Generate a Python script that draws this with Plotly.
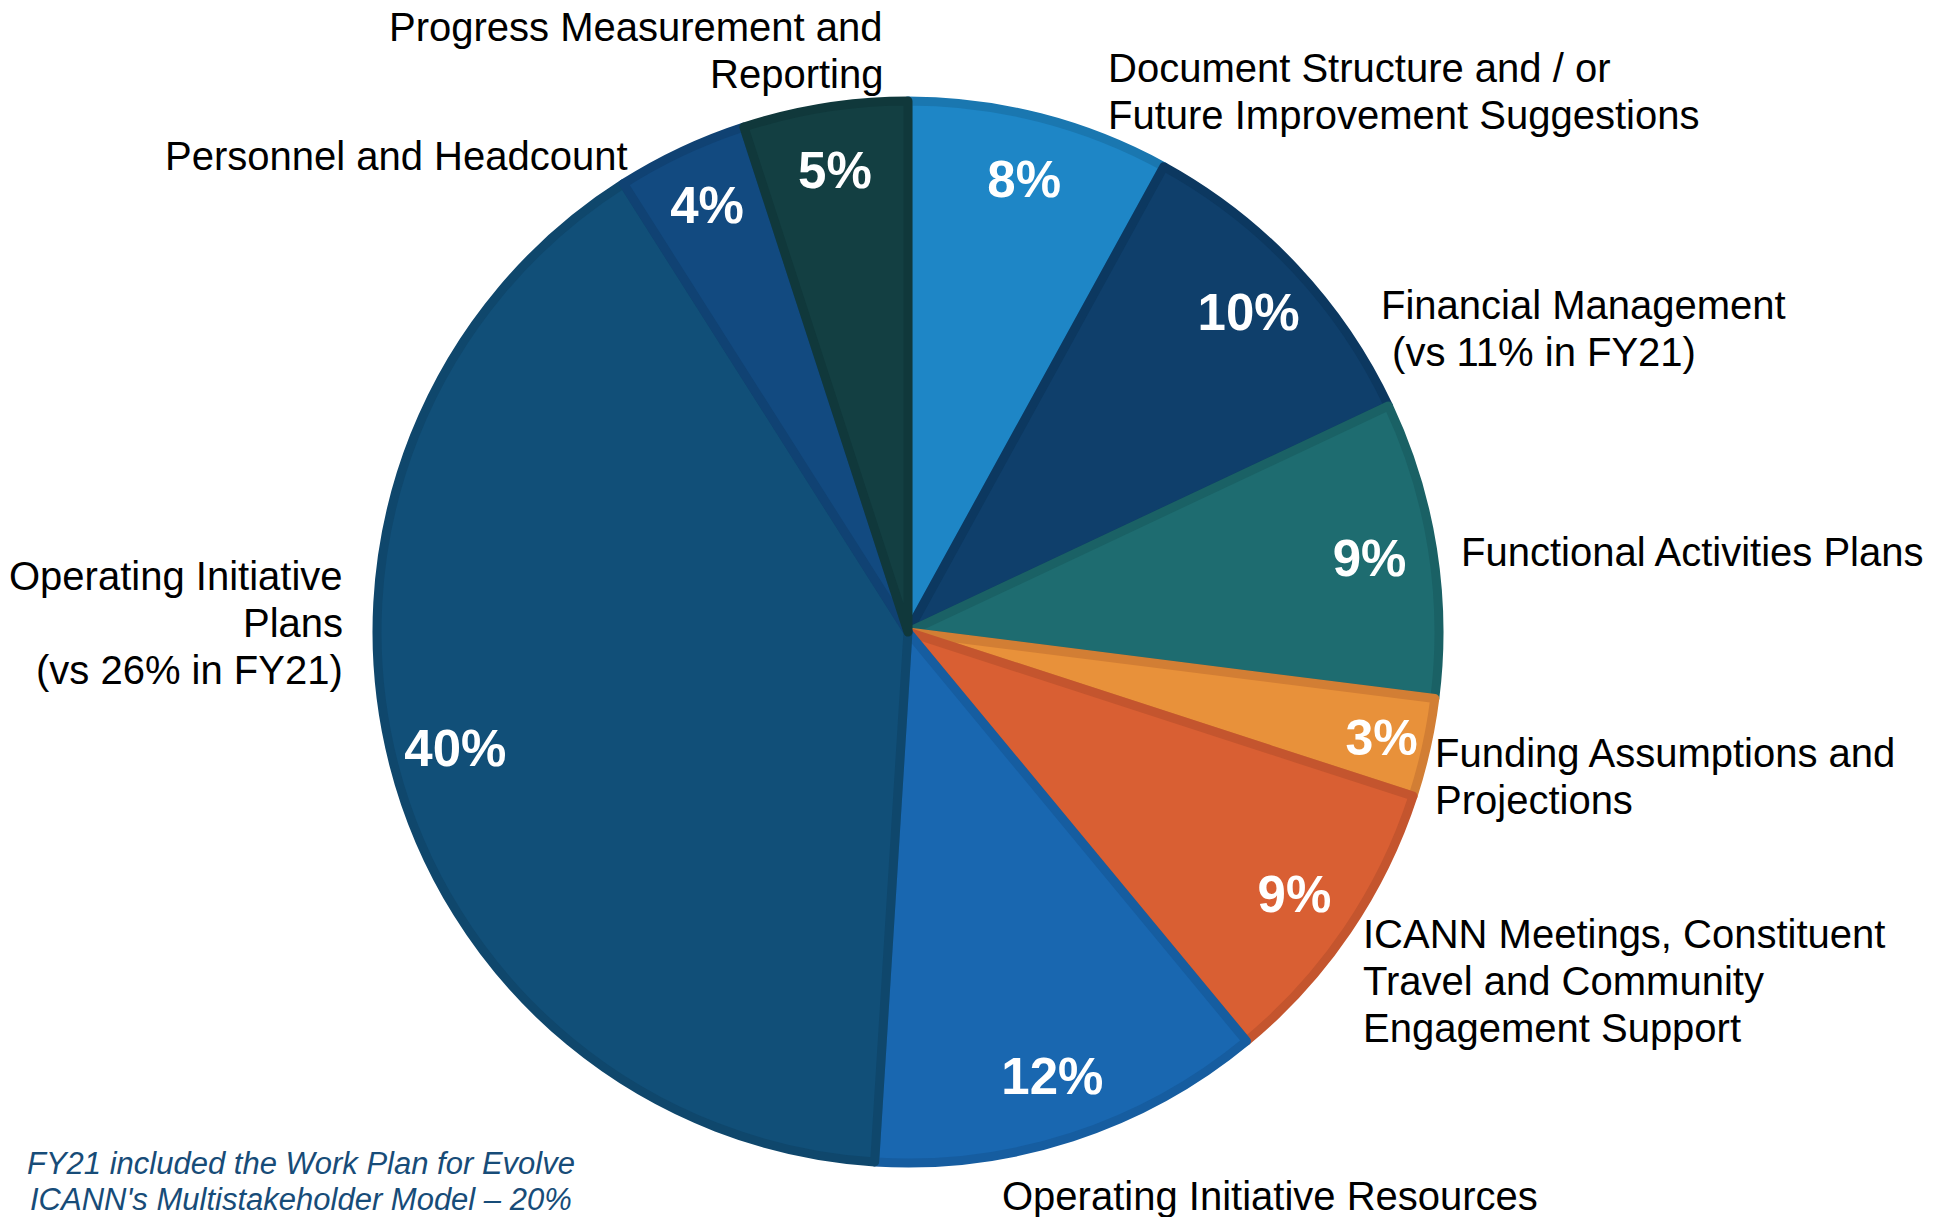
import plotly.graph_objects as go

labels = ['Document Structure and / or<br>Future Improvement Suggestions',
          'Financial Management<br> (vs 11% in FY21)',
          'Functional Activities Plans',
          'Funding Assumptions and<br>Projections',
          'ICANN Meetings, Constituent<br>Travel and Community<br>Engagement Support',
          'Operating Initiative Resources',
          'Operating Initiative<br>Plans<br>(vs 26% in FY21)',
          'Personnel and Headcount',
          'Progress Measurement and<br>Reporting']
shares = [8, 10, 9, 3, 9, 12, 40, 4, 5]

fill_colors = ['#1E86C6', '#0F3F6B', '#1E6C70', '#E8913A', '#D95F33',
               '#1967B0', '#114F78', '#124A80', '#133F42']
edge_colors = ['#1A77B0', '#0C3860', '#1A6165', '#D27E34', '#C4552E',
               '#165DA0', '#0F476C', '#104273', '#10383B']

# label anchor points in pixels (x, y of first line centre, x-anchor)
label_pos = [(1106, 68, 'left'), (1379, 305, 'left'), (1459, 552, 'left'),
             (1433, 753, 'left'), (1361, 934, 'left'), (1000, 1196, 'left'),
             (345, 576, 'right'), (630, 156, 'right'), (885, 27, 'right')]

W, H = 1946, 1217
cx, cy, r = 908, 632, 531
dom_x = [(cx - r) / W, (cx + r) / W]
dom_y = [1 - (cy + r) / H, 1 - (cy - r) / H]
FONT = 'Arial, Liberation Sans, sans-serif'

fig = go.Figure()
fig.add_trace(go.Pie(labels=labels, values=shares, sort=False, direction='clockwise',
                     rotation=0, domain=dict(x=dom_x, y=dom_y),
                     marker=dict(colors=fill_colors, line=dict(color=edge_colors, width=9)),
                     textinfo='none', hoverinfo='label+percent', showlegend=False))
# ring trace only carries the percentage text
fig.add_trace(go.Pie(labels=labels, values=shares, sort=False, direction='clockwise',
                     rotation=0, hole=0.76, domain=dict(x=dom_x, y=dom_y),
                     marker=dict(colors=['rgba(0,0,0,0)'] * len(shares), line=dict(width=0)),
                     texttemplate='%{percent:.0%}', textposition='inside',
                     insidetextorientation='horizontal',
                     textfont=dict(family=FONT, size=51, color='white', weight='bold'),
                     hoverinfo='skip', showlegend=False))

annotations = []
line_gap = 47
for text, (x, y, anchor) in zip(labels, label_pos):
    for i, line in enumerate(text.split('<br>')):
        annotations.append(dict(x=x / W, y=1 - (y + i * line_gap) / H, xref='paper', yref='paper',
                                text=line, showarrow=False, xanchor=anchor, yanchor='middle',
                                font=dict(family=FONT, size=40, color='black')))

note = ['FY21 included the Work Plan for Evolve', "ICANN's Multistakeholder Model – 20%"]
for i, line in enumerate(note):
    annotations.append(dict(x=301 / W, y=1 - (1163 + i * 36) / H, xref='paper', yref='paper',
                            text='<i>' + line + '</i>', showarrow=False, xanchor='center',
                            yanchor='middle', font=dict(family=FONT, size=31, color='#174C78')))

fig.update_layout(width=W, height=H, margin=dict(l=0, r=0, t=0, b=0),
                  paper_bgcolor='white', plot_bgcolor='white',
                  annotations=annotations)

fig.write_html("out.html", config={'displayModeBar': False},
               post_script="document.body.style.margin='0';")
